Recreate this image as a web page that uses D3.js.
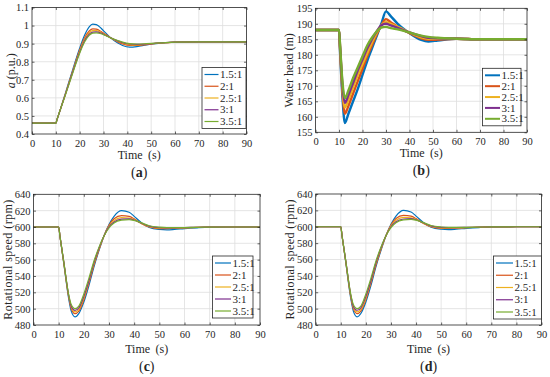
<!DOCTYPE html>
<html lang="en">
<head>
<meta charset="UTF-8">
<title>Ratio comparison</title>
<script src="https://d3js.org/d3.v7.min.js"></script>
<style>
  body { margin: 0; background: white; }
  svg text { font-family: "Liberation Serif", "Times New Roman", serif; fill: #262626; }
</style>
</head>
<body>
<svg id="chart" width="550" height="377"></svg>
<script>
// ratio series, in legend order
const ratios = ["1.5:1", "2:1", "2.5:1", "3:1", "3.5:1"];
const colors = ["#0072BD", "#D95319", "#EDB120", "#7E2F8E", "#77AC30"];

// (a) guide vane opening
const openTime = [0, 10, 10.5, 12, 14, 16, 18, 20, 22, 24, 25.5, 27, 29, 31, 33, 36, 38, 41, 44, 48, 52, 56, 60, 70, 80, 90];
const openVals = [
  [0.46, 0.46, 0.48, 0.54, 0.625, 0.71, 0.795, 0.875, 0.945, 0.993, 1.008, 1.005, 0.985, 0.958, 0.932, 0.903, 0.89, 0.881, 0.884, 0.893, 0.9, 0.905, 0.908, 0.91, 0.91, 0.91],
  [0.46, 0.46, 0.48, 0.54, 0.62, 0.705, 0.787, 0.865, 0.93, 0.97, 0.982, 0.98, 0.967, 0.95, 0.932, 0.91, 0.899, 0.89, 0.89, 0.895, 0.901, 0.905, 0.908, 0.91, 0.91, 0.91],
  [0.46, 0.46, 0.48, 0.54, 0.62, 0.7, 0.782, 0.858, 0.922, 0.96, 0.972, 0.972, 0.962, 0.947, 0.932, 0.913, 0.903, 0.895, 0.893, 0.897, 0.902, 0.905, 0.908, 0.91, 0.91, 0.91],
  [0.46, 0.46, 0.48, 0.54, 0.618, 0.698, 0.778, 0.852, 0.915, 0.952, 0.964, 0.965, 0.958, 0.945, 0.932, 0.915, 0.906, 0.898, 0.896, 0.898, 0.903, 0.906, 0.908, 0.91, 0.91, 0.91],
  [0.46, 0.46, 0.48, 0.54, 0.615, 0.695, 0.773, 0.847, 0.908, 0.946, 0.958, 0.96, 0.955, 0.944, 0.932, 0.917, 0.908, 0.9, 0.898, 0.9, 0.903, 0.906, 0.908, 0.91, 0.91, 0.91]
];

// (b) water head
const headTime = [0, 10, 10.5, 11.5, 12.5, 14, 16, 18, 20, 22, 24, 26, 28, 30, 32, 35, 40, 45, 48, 52, 60, 70, 80, 90];
const headVals = [
  [188, 188, 180, 166, 158, 161, 165, 169, 173.5, 178, 182, 186, 190, 194, 192.5, 190, 187, 184.8, 184.3, 184.6, 185.2, 185, 185, 185],
  [188, 188, 181, 168, 161, 163.5, 167.5, 171.5, 175.5, 179.5, 183, 186.5, 189.5, 191.5, 190.5, 189, 187, 185.3, 184.8, 184.9, 185.2, 185, 185, 185],
  [188, 188, 181.5, 169, 163, 165.5, 169.5, 173.5, 177, 180.5, 184, 187, 189.5, 190.5, 190, 189, 187.2, 185.6, 185.2, 185.2, 185.2, 185, 185, 185],
  [188, 188, 182, 170, 164.5, 167, 171, 175, 178.5, 182, 185, 187.5, 189.5, 190, 189.5, 188.7, 187.2, 186, 185.5, 185.3, 185.2, 185, 185, 185],
  [188, 188, 182.5, 171, 166, 168.5, 172.5, 176, 179.5, 183, 185.5, 187.5, 188.8, 189, 188.6, 188.2, 187.2, 186.2, 185.8, 185.5, 185.2, 185, 185, 185]
];

// (c) and (d) rotational speed
const speedTime = [0, 10, 10.5, 12, 14, 15, 16.5, 18, 20, 22, 24, 26, 28, 30, 32, 35, 38, 40, 43, 46, 50, 53, 56, 60, 65, 70, 80, 90];
const speedVals = [
  [600, 600, 589, 556, 512, 497, 490, 494, 508, 528, 551, 571, 589, 603, 613, 620, 618, 613, 605, 599.5, 597, 596.5, 597, 598, 599, 599.7, 600, 600],
  [600, 600, 589, 557, 514, 500, 494, 497, 511, 531, 553, 572, 589, 602, 610, 614, 613, 610, 604, 600, 598, 598, 598.3, 598.8, 599.4, 599.8, 600, 600],
  [600, 600, 589, 557, 515, 502, 496, 499, 513, 533, 555, 573, 589, 601, 608, 611.5, 611, 609, 604, 600.5, 598.7, 598.5, 598.7, 599, 599.5, 599.8, 600, 600],
  [600, 600, 589, 558, 516, 503, 498, 501, 515, 534, 556, 574, 589, 600, 606, 609.5, 610, 608.5, 604.5, 601, 599.2, 599, 599, 599.2, 599.6, 599.8, 600, 600],
  [600, 600, 589, 558, 517, 505, 500, 503, 518, 537, 558, 575, 589, 599, 605, 608.3, 609, 608, 605, 601.5, 599.7, 599.2, 599.2, 599.3, 599.6, 599.8, 600, 600]
];

const timeTicks = d3.range(0, 91, 10);
const openTicks = [0.4, 0.5, 0.6, 0.7, 0.8, 0.9, 1, 1.1];
const headTicks = d3.range(155, 196, 5);
const speedTicks = d3.range(480, 641, 20);

const svg = d3.select("#chart");
const axisColor = "#262626";

// one MATLAB-style panel
function drawPanel(p) {
  const x = d3.scaleLinear().domain([0, 90]).range([p.left, p.right]);
  const y = d3.scaleLinear().domain(p.yDomain).range([p.bottom, p.top]);
  const g = svg.append("g");

  // grid
  g.selectAll(".gx").data(timeTicks.slice(1, -1)).enter().append("line")
    .attr("x1", d => x(d)).attr("x2", d => x(d))
    .attr("y1", p.top).attr("y2", p.bottom)
    .attr("stroke", "#dedede").attr("stroke-width", 0.8);
  g.selectAll(".gy").data(p.yTicks.slice(1, -1)).enter().append("line")
    .attr("y1", d => y(d)).attr("y2", d => y(d))
    .attr("x1", p.left).attr("x2", p.right)
    .attr("stroke", "#dedede").attr("stroke-width", 0.8);

  // curves
  const line = d3.line().curve(d3.curveMonotoneX);
  p.vals.forEach((vals, i) => {
    g.append("path")
      .attr("d", line(p.time.map((t, k) => [x(t), y(vals[k])])))
      .attr("fill", "none")
      .attr("stroke", colors[i])
      .attr("stroke-width", p.lineWidth)
      .attr("stroke-linejoin", "round");
  });

  // axes with inward ticks on all sides
  const tl = 2.5;
  g.append("g").attr("transform", `translate(0,${p.bottom})`)
    .call(d3.axisBottom(x).tickValues(timeTicks).tickSize(-tl).tickPadding(5.5).tickSizeOuter(0));
  g.append("g").attr("transform", `translate(0,${p.top})`)
    .call(d3.axisTop(x).tickValues(timeTicks).tickSize(-tl).tickFormat("").tickSizeOuter(0));
  g.append("g").attr("transform", `translate(${p.left},0)`)
    .call(d3.axisLeft(y).tickValues(p.yTicks).tickSize(-tl).tickPadding(3).tickFormat(p.fmt).tickSizeOuter(0));
  g.append("g").attr("transform", `translate(${p.right},0)`)
    .call(d3.axisRight(y).tickValues(p.yTicks).tickSize(-tl).tickFormat("").tickSizeOuter(0));
  g.selectAll(".domain").remove();
  g.selectAll(".tick line").attr("stroke", axisColor).attr("stroke-width", 0.7);
  g.selectAll(".tick text").style("font-family", "Liberation Serif").style("font-size", "10.5px").attr("fill", axisColor);

  g.append("rect")
    .attr("x", p.left).attr("y", p.top)
    .attr("width", p.right - p.left).attr("height", p.bottom - p.top)
    .attr("fill", "none").attr("stroke", axisColor).attr("stroke-width", 0.8);

  // labels
  const cx = (p.left + p.right) / 2;
  g.append("text").attr("x", cx).attr("y", p.bottom + p.timeDy)
    .attr("text-anchor", "middle").style("font-size", "12px").style("word-spacing", "2.5px").text("Time (s)");
  const yt = g.append("text")
    .attr("transform", `translate(${p.ylabelX},${(p.top + p.bottom) / 2}) rotate(-90)`)
    .attr("text-anchor", "middle").style("font-size", "12px");
  p.ylabel(yt);
  const tag = g.append("text").attr("x", cx).attr("y", p.bottom + p.tagDy)
    .attr("text-anchor", "middle").style("font-size", "14px");
  tag.append("tspan").text("(");
  tag.append("tspan").style("font-weight", "bold").text(p.tag);
  tag.append("tspan").text(")");

  // legend
  const L = p.legend;
  g.append("rect").attr("x", L.x).attr("y", L.y).attr("width", L.w).attr("height", L.h)
    .attr("fill", "white").attr("stroke", axisColor).attr("stroke-width", 0.8);
  const step = (L.h - 14) / (ratios.length - 1);
  ratios.forEach((r, i) => {
    const ry = L.y + 7 + i * step;
    g.append("line").attr("x1", L.x + 2.5).attr("x2", L.x + 2.5 + L.len)
      .attr("y1", ry).attr("y2", ry)
      .attr("stroke", colors[i]).attr("stroke-width", p.legendWidth);
    g.append("text").attr("x", L.x + 4 + L.len).attr("y", ry + 3.6)
      .style("font-size", "11px").text(r);
  });
}

const intFmt = d3.format("d");

drawPanel({
  tag: "a", time: openTime, vals: openVals, yDomain: [0.4, 1.1], yTicks: openTicks,
  fmt: d => d3.format("~g")(d),
  left: 32, right: 246.5, top: 7.5, bottom: 134,
  timeDy: 25, tagDy: 43, ylabelX: 14.5, lineWidth: 1.2, legendWidth: 1.2,
  ylabel: t => { t.append("tspan").style("font-style", "italic").text("a"); t.append("tspan").text(" (p.u.)"); },
  legend: { x: 202, y: 67.5, w: 44, h: 61, len: 14 }
});

drawPanel({
  tag: "b", time: headTime, vals: headVals, yDomain: [155, 195], yTicks: headTicks,
  fmt: intFmt,
  left: 315.5, right: 527, top: 8.3, bottom: 132.3,
  timeDy: 25, tagDy: 43, ylabelX: 293, lineWidth: 2.4, legendWidth: 2,
  ylabel: t => t.text("Water head (m)"),
  legend: { x: 482.5, y: 68.3, w: 38.5, h: 57.5, len: 15 }
});

drawPanel({
  tag: "c", time: speedTime, vals: speedVals, yDomain: [480, 640], yTicks: speedTicks,
  fmt: intFmt,
  left: 33.5, right: 260, top: 194.3, bottom: 325,
  timeDy: 28, tagDy: 46, ylabelX: 12, lineWidth: 1.2, legendWidth: 1.2,
  ylabel: t => t.text("Rotational speed (rpm)").attr("textLength", 120).attr("lengthAdjust", "spacing"),
  legend: { x: 212.5, y: 256, w: 40.5, h: 62, len: 16 }
});

drawPanel({
  tag: "d", time: speedTime, vals: speedVals, yDomain: [480, 640], yTicks: speedTicks,
  fmt: intFmt,
  left: 315.7, right: 541.5, top: 194, bottom: 325,
  timeDy: 28, tagDy: 46, ylabelX: 293.5, lineWidth: 1.2, legendWidth: 1.2,
  ylabel: t => t.text("Rotational speed (rpm)").attr("textLength", 120).attr("lengthAdjust", "spacing"),
  legend: { x: 493.5, y: 256, w: 48, h: 63, len: 17 }
});
</script>
</body>
</html>
